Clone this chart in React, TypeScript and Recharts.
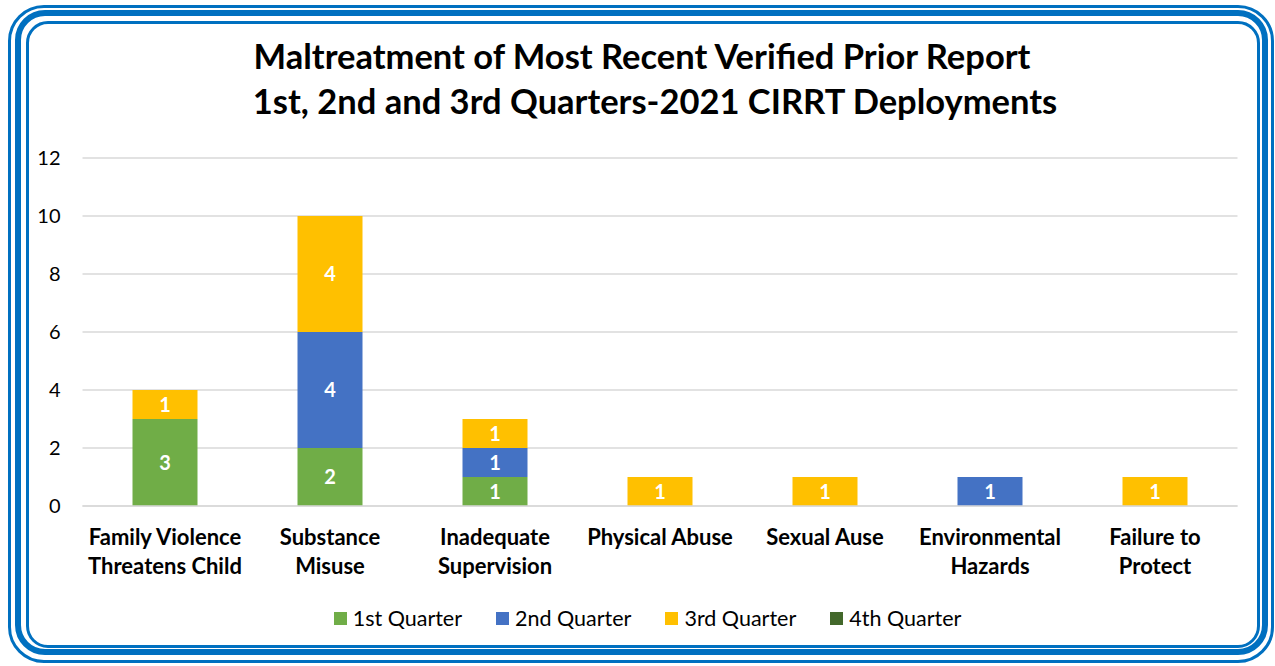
import { BarChart, Bar, XAxis, YAxis, CartesianGrid, LabelList } from 'recharts'

const categories = [
  ['Family Violence', 'Threatens Child'],
  ['Substance', 'Misuse'],
  ['Inadequate', 'Supervision'],
  ['Physical Abuse'],
  ['Sexual Ause'],
  ['Environmental', 'Hazards'],
  ['Failure to', 'Protect'],
]
const q1 = [3, 2, 1, 0, 0, 0, 0]
const q2 = [0, 4, 1, 0, 0, 1, 0]
const q3 = [1, 4, 1, 1, 1, 0, 1]
const q4 = [0, 0, 0, 0, 0, 0, 0]
const yTicks = [0, 2, 4, 6, 8, 10, 12]

const seriesNames = ['1st Quarter', '2nd Quarter', '3rd Quarter', '4th Quarter']
const seriesColors = ['#70AD47', '#4472C4', '#FFC000', '#43682B']

const FONT = 'Lato, "Open Sans", sans-serif'

const data = categories.map((c, i) => ({ name: c.join('\n'), q1: q1[i], q2: q2[i], q3: q3[i], q4: q4[i] }))

function CatTick({ x, y, payload }: any) {
  const lines = String(payload.value).split('\n')
  return (
    <text x={x} y={y} textAnchor="middle" fontFamily={FONT} fontWeight={700} fontSize={22} fill="#000">
      {lines.map((l, i) => (
        <tspan key={i} x={x} dy={i === 0 ? 31 : 29}>{l}</tspan>
      ))}
    </text>
  )
}

function SegLabel({ x, y, width, height, value }: any) {
  if (!value) return null
  return (
    <text x={x + width / 2} y={y + height / 2 + 7} textAnchor="middle" fontFamily={FONT} fontWeight={700} fontSize={20} fill="#fff">
      {value}
    </text>
  )
}

const frame = (inset: [number, number, number, number], w: number, r: number) => ({
  position: 'absolute' as const,
  left: inset[0],
  top: inset[1],
  width: inset[2] - inset[0] - w * 2,
  height: inset[3] - inset[1] - w * 2,
  border: `${w}px solid #0070C0`,
  borderRadius: r,
})

export default function App() {
  const keys = ['q1', 'q2', 'q3', 'q4']
  return (
    <div style={{ position: 'absolute', left: 0, top: 0, width: 1275, height: 666, background: '#fff', overflow: 'hidden' }}>
      <div style={frame([8, 5, 1274, 663], 3, 36)} />
      <div style={frame([15, 10, 1268, 655], 6, 30)} />
      <div style={frame([26, 21, 1260, 648], 3, 22)} />
      <div style={{ position: 'absolute', left: 0, top: 33, width: 1310, textAlign: 'center', fontFamily: FONT, fontWeight: 700, fontSize: 34.5, lineHeight: '45px', color: '#000' }}>
        <div style={{ paddingRight: 26 }}>Maltreatment of Most Recent Verified Prior Report</div>
        <div>1st, 2nd and 3rd Quarters-2021 CIRRT Deployments</div>
      </div>
      <div style={{ position: 'absolute', top: 0, left: 0 }}>
        <BarChart width={1275} height={666} data={data} margin={{ top: 158, right: 37.5, left: 22.5, bottom: 80 }}>
          <CartesianGrid vertical={false} stroke="#d9d9d9" strokeWidth={1.5} />
          <XAxis dataKey="name" tick={<CatTick />} tickLine={false} axisLine={{ stroke: '#d9d9d9', strokeWidth: 1.5 }} height={80} interval={0} />
          <YAxis domain={[0, 12]} ticks={yTicks} width={60} tickLine={false} axisLine={false} tickSize={0} tickMargin={22}
            tick={{ fill: '#000', fontSize: 20, fontFamily: FONT }} />
          {keys.map((k, i) => (
            <Bar key={k} dataKey={k} stackId="a" fill={seriesColors[i]} barSize={65} isAnimationActive={false}>
              <LabelList dataKey={k} content={<SegLabel />} />
            </Bar>
          ))}
        </BarChart>
      </div>
      <div style={{ position: 'absolute', top: 605, left: 0, width: 1295, display: 'flex', justifyContent: 'center', fontFamily: FONT, fontSize: 21.5, color: '#000' }}>
        {seriesNames.map((n, i) => (
          <div key={n} style={{ display: 'flex', alignItems: 'center', margin: '0 17px' }}>
            <span style={{ width: 13, height: 13, background: seriesColors[i], marginRight: 6, display: 'inline-block' }} />
            {n}
          </div>
        ))}
      </div>
    </div>
  )
}
